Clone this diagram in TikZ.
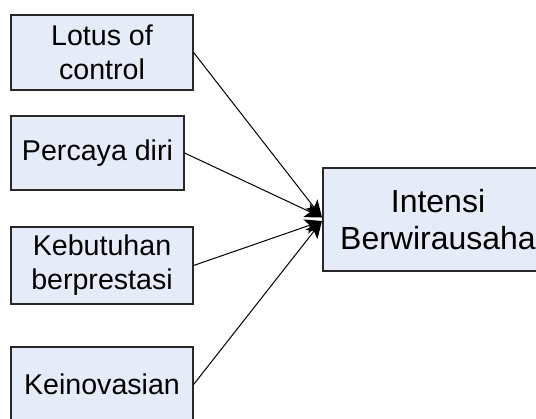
\documentclass[tikz,border=0pt]{standalone}
\usepackage{fontspec}
\setmainfont{Liberation Sans}
\usetikzlibrary{positioning, arrows.meta}
\definecolor{boxfill}{RGB}{230,236,247}
\definecolor{boxline}{RGB}{40,40,40}
\tikzset{varbox/.style={draw=boxline, line width=1.2pt, fill=boxfill, inner sep=0pt, align=center, font=\fontsize{28.6}{34}\selectfont}}
\tikzset{arr/.style={draw, -{Stealth[length=17pt, width=15pt, inset=4pt]}, line width=1pt}}

\begin{document}
\begin{tikzpicture}[x=1pt, y=-1pt]
		\path[use as bounding box, clip] (0,0) rectangle (536,419);
		\node[varbox, minimum width=182pt, minimum height=75pt] (A) at (102,52.5) {Lotus of\\control};
		\node[varbox, minimum width=173pt, minimum height=74pt] (B) at (97.5,153) {Percaya diri};
		\node[varbox, minimum width=182pt, minimum height=77pt] (C) at (102,265.5) {Kebutuhan\\berprestasi};
		\node[varbox, minimum width=182pt, minimum height=75pt] (D) at (102,384.5) {Keinovasian};
		\node[varbox, minimum width=230pt, minimum height=103pt, font=\fontsize{32}{37}\selectfont] (E) at (438,219.5) {Intensi\\Berwirausaha};
        \coordinate (up) at (322,217.5);
        \coordinate (down) at (322,221);
		% arrows into the target box
		\draw[arr] (A.east) -- (up);
		\draw[arr] (B.east) -- (up);
		\draw[arr] (C.east) -- (down);
		\draw[arr] (D.east) -- (down);
	\end{tikzpicture}
\end{document}
